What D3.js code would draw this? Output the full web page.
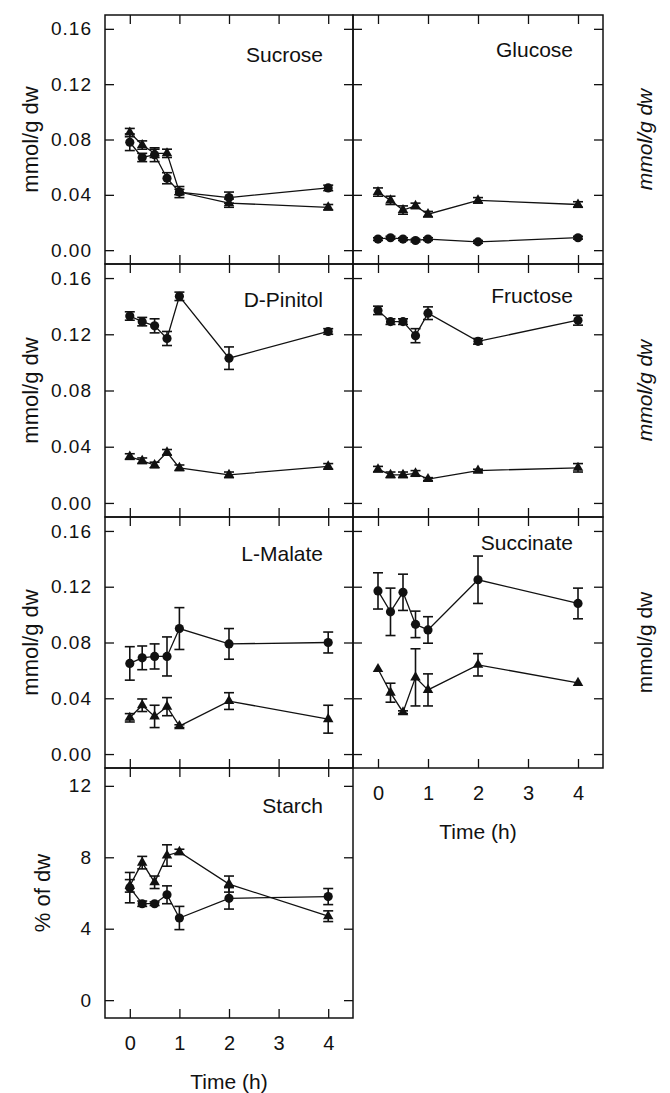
<!DOCTYPE html>
<html>
<head>
<meta charset="utf-8">
<script src="https://cdn.jsdelivr.net/npm/d3@7"></script>
<style>
  body { margin: 0; background: #fff; }
  text { font-family: "Liberation Sans", Arial, sans-serif; fill: #111; }
</style>
</head>
<body>
<svg width="670" height="1093"></svg>
<script>
// time points (h)
const times = [0, 0.25, 0.5, 0.75, 1, 2, 4];
const xTicks = [0, 1, 2, 3, 4];
const mmolTicks = [0, 0.04, 0.08, 0.12, 0.16];
const starchTicks = [0, 4, 8, 12];

// circles = series 1, triangles = series 2
const sucroseDot = [0.078, 0.067, 0.069, 0.052, 0.042, 0.038, 0.045];
const sucroseDotErr = [0.006, 0.003, 0.005, 0.004, 0.002, 0.004, 0.002];
const sucroseTri = [0.085, 0.076, 0.070, 0.070, 0.042, 0.034, 0.031];
const sucroseTriErr = [0.003, 0.003, 0.003, 0.003, 0.004, 0.003, 0.002];

const glucoseDot = [0.008, 0.009, 0.008, 0.007, 0.008, 0.006, 0.009];
const glucoseDotErr = [0.001, 0.001, 0.001, 0.001, 0.001, 0.001, 0.001];
const glucoseTri = [0.042, 0.036, 0.029, 0.032, 0.026, 0.036, 0.033];
const glucoseTriErr = [0.003, 0.003, 0.003, 0.002, 0.002, 0.002, 0.002];

const pinitolDot = [0.133, 0.129, 0.126, 0.117, 0.147, 0.103, 0.122];
const pinitolDotErr = [0.003, 0.003, 0.005, 0.005, 0.003, 0.008, 0.002];
const pinitolTri = [0.033, 0.030, 0.027, 0.036, 0.025, 0.020, 0.026];
const pinitolTriErr = [0.002, 0.002, 0.002, 0.002, 0.002, 0.002, 0.002];

const fructoseDot = [0.137, 0.129, 0.129, 0.119, 0.135, 0.115, 0.130];
const fructoseDotErr = [0.003, 0.002, 0.002, 0.005, 0.0045, 0.002, 0.0035];
const fructoseTri = [0.024, 0.020, 0.020, 0.021, 0.017, 0.023, 0.025];
const fructoseTriErr = [0.002, 0.002, 0.002, 0.002, 0.001, 0.001, 0.003];

const malateDot = [0.065, 0.069, 0.070, 0.070, 0.090, 0.079, 0.080];
const malateDotErr = [0.012, 0.0085, 0.009, 0.014, 0.015, 0.011, 0.0075];
const malateTri = [0.026, 0.035, 0.027, 0.034, 0.020, 0.038, 0.025];
const malateTriErr = [0.003, 0.0045, 0.008, 0.0065, 0.001, 0.006, 0.010];

const succinateDot = [0.117, 0.102, 0.116, 0.093, 0.089, 0.125, 0.108];
const succinateDotErr = [0.013, 0.017, 0.013, 0.0095, 0.0095, 0.017, 0.011];
const succinateTri = [0.061, 0.044, 0.030, 0.055, 0.046, 0.064, 0.051];
const succinateTriErr = [0, 0.0068, 0.001, 0.0205, 0.0115, 0.008, 0];

const starchDot = [6.3, 5.4, 5.4, 5.9, 4.6, 5.7, 5.8];
const starchDotErr = [0.85, 0.15, 0.1, 0.5, 0.65, 0.6, 0.45];
const starchTri = [6.4, 7.7, 6.6, 8.1, 8.3, 6.5, 4.7];
const starchTriErr = [0.35, 0.35, 0.35, 0.6, 0.15, 0.45, 0.3];

const svg = d3.select("svg");
const colX = [[105, 353], [353, 603]];
const rowY = [15, 264, 517, 768, 1018];
const mmolDomain = [-0.01, 0.17];

const panels = [
  { name: "Sucrose", col: 0, row: 0, dot: sucroseDot, dotErr: sucroseDotErr, tri: sucroseTri, triErr: sucroseTriErr, labelDy: 47 },
  { name: "Glucose", col: 1, row: 0, dot: glucoseDot, dotErr: glucoseDotErr, tri: glucoseTri, triErr: glucoseTriErr, labelDy: 42, italic: true },
  { name: "D-Pinitol", col: 0, row: 1, dot: pinitolDot, dotErr: pinitolDotErr, tri: pinitolTri, triErr: pinitolTriErr, labelDy: 43 },
  { name: "Fructose", col: 1, row: 1, dot: fructoseDot, dotErr: fructoseDotErr, tri: fructoseTri, triErr: fructoseTriErr, labelDy: 39, italic: true },
  { name: "L-Malate", col: 0, row: 2, dot: malateDot, dotErr: malateDotErr, tri: malateTri, triErr: malateTriErr, labelDy: 44 },
  { name: "Succinate", col: 1, row: 2, dot: succinateDot, dotErr: succinateDotErr, tri: succinateTri, triErr: succinateTriErr, labelDy: 33, xLabels: true },
  { name: "Starch", col: 0, row: 3, dot: starchDot, dotErr: starchDotErr, tri: starchTri, triErr: starchTriErr, labelDy: 45, xLabels: true, starch: true }
];

panels.forEach(p => {
  const [x0, x1] = colX[p.col];
  const yt = rowY[p.row], yb = rowY[p.row + 1];
  const x = d3.scaleLinear().domain([-0.5, 4.5]).range([x0, x1]);
  const y = d3.scaleLinear().domain(p.starch ? [-1, 13] : mmolDomain).range([yb, yt]);
  const yTicks = p.starch ? starchTicks : mmolTicks;
  const fmt = p.starch ? d3.format("d") : d3.format(".2f");

  const g = svg.append("g").style("color", "#111");

  // axes, ticks pointing inward on all four sides
  const left = g.append("g").attr("transform", `translate(${x0},0)`)
    .call(d3.axisLeft(y).tickValues(yTicks).tickSize(-9).tickSizeOuter(0).tickPadding(13)
      .tickFormat(p.col === 0 ? fmt : ""));
  g.append("g").attr("transform", `translate(${x1},0)`)
    .call(d3.axisRight(y).tickValues(yTicks).tickSize(-9).tickSizeOuter(0).tickFormat(""));
  g.append("g").attr("transform", `translate(0,${yt})`)
    .call(d3.axisTop(x).tickValues(xTicks).tickSize(-9).tickSizeOuter(0).tickFormat(""));
  const bottom = g.append("g").attr("transform", `translate(0,${yb})`)
    .call(d3.axisBottom(x).tickValues(xTicks).tickSize(-9).tickSizeOuter(0).tickPadding(18)
      .tickFormat(p.xLabels ? d3.format("d") : ""));

  g.selectAll(".domain").remove();
  g.selectAll(".tick line").attr("stroke-width", 1.3);
  left.selectAll("text").style("font-size", "19px").style("letter-spacing", "1px").attr("fill", "#111");
  bottom.selectAll("text").style("font-size", "20px").attr("fill", "#111");

  g.append("rect")
    .attr("x", x0).attr("y", yt).attr("width", x1 - x0).attr("height", yb - yt)
    .attr("fill", "none").attr("stroke", "#111").attr("stroke-width", 1.5);

  // panel name
  g.append("text")
    .attr("x", x1 - 30).attr("y", yt + p.labelDy)
    .attr("text-anchor", "end").style("font-size", "21px")
    .text(p.name);

  // y titles
  const ym = (yt + yb) / 2;
  if (p.col === 0) {
    g.append("text")
      .attr("transform", `translate(${p.starch ? 50 : 38},${ym}) rotate(-90)`)
      .attr("text-anchor", "middle").style("font-size", "22px")
      .text(p.starch ? "% of dw" : "mmol/g dw");
  } else {
    g.append("text")
      .attr("transform", `translate(652,${ym}) rotate(-90)`)
      .attr("text-anchor", "middle").style("font-size", "21px")
      .style("font-style", p.italic ? "italic" : "normal")
      .text("mmol/g dw");
  }
  if (p.xLabels) {
    g.append("text")
      .attr("x", (x0 + x1) / 2).attr("y", yb + 71)
      .attr("text-anchor", "middle").style("font-size", "21px")
      .text("Time (h)");
  }

  const line = d3.line().x((d, i) => x(times[i])).y(d => y(d));

  [[p.dot, p.dotErr, d3.symbolCircle, 66], [p.tri, p.triErr, d3.symbolTriangle, 48]].forEach(([vals, errs, sym, size]) => {
    g.append("path").datum(vals)
      .attr("d", line).attr("fill", "none").attr("stroke", "#111").attr("stroke-width", 1.3);

    const eb = g.append("g").attr("stroke", "#111").attr("stroke-width", 1.6);
    vals.forEach((v, i) => {
      const e = errs[i];
      if (!e) return;
      const cx = x(times[i]);
      const ya = y(v - e), yb2 = y(v + e);
      eb.append("line").attr("x1", cx).attr("x2", cx).attr("y1", ya).attr("y2", yb2);
      eb.append("line").attr("x1", cx - 5).attr("x2", cx + 5).attr("y1", ya).attr("y2", ya);
      eb.append("line").attr("x1", cx - 5).attr("x2", cx + 5).attr("y1", yb2).attr("y2", yb2);
    });

    g.selectAll(null).data(vals).enter().append("path")
      .attr("d", d3.symbol().type(sym).size(size))
      .attr("transform", (d, i) => `translate(${x(times[i])},${y(d)})`)
      .attr("fill", "#111");
  });
});
</script>
</body>
</html>
